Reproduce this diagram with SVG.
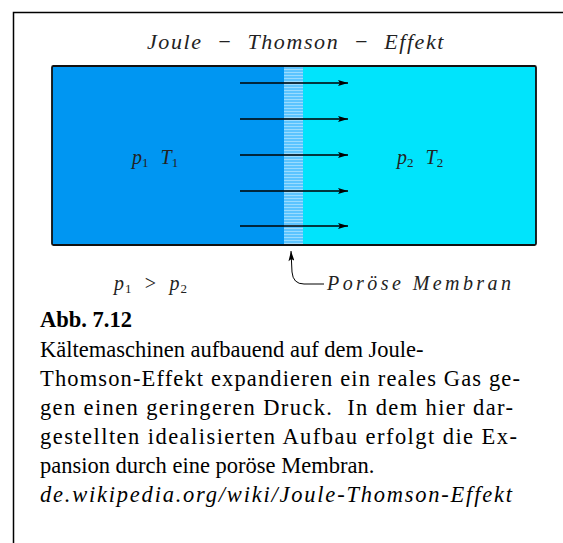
<svg xmlns="http://www.w3.org/2000/svg" width="563" height="543" viewBox="0 0 563 543">
<defs>
<marker id="ah" viewBox="0 0 10 6" refX="10" refY="3" markerWidth="11" markerHeight="6" markerUnits="userSpaceOnUse" orient="auto">
<path d="M0,0 L10,3 L0,6 L2,3 Z" fill="#000"/>
</marker>
<pattern id="stripes" x="0" y="0" width="20" height="3" patternUnits="userSpaceOnUse">
<rect width="20" height="3" fill="#5cc4ff"/>
<rect width="20" height="1" fill="#9adcff"/>
</pattern>
</defs>
<rect width="563" height="543" fill="#fff"/>
<path d="M13.5,543 V12.5 H563" fill="none" stroke="#000" stroke-width="1.5"/>
<g id="title" fill="#222">
<text x="296" y="49" text-anchor="middle" xml:space="preserve" style="font-family:'Liberation Serif',serif;font-style:italic;font-size:22px;letter-spacing:1.6px">Joule  −  Thomson  −  Effekt</text>
</g>
<g id="chamber">
<rect x="52" y="66" width="232" height="179" fill="#0096f2"/>
<rect x="284" y="66" width="252" height="179" fill="#00e4fc"/>
<rect x="284" y="66" width="19" height="179" fill="url(#stripes)"/>
<rect x="52" y="66" width="484" height="179" fill="none" stroke="#111" stroke-width="1.8" rx="1.5"/>
</g>
<g id="left-state" fill="#222">
<text x="132" y="164" style="font-family:'Liberation Serif',serif;font-style:italic;font-size:20px">p<tspan dy="3" style="font-style:normal;font-size:13px">1</tspan><tspan dy="-3" dx="12">T</tspan><tspan dy="3" style="font-style:normal;font-size:13px">1</tspan></text>
</g>
<g id="right-state" fill="#222">
<text x="397" y="164" style="font-family:'Liberation Serif',serif;font-style:italic;font-size:20px">p<tspan dy="3" style="font-style:normal;font-size:13px">2</tspan><tspan dy="-3" dx="12">T</tspan><tspan dy="3" style="font-style:normal;font-size:13px">2</tspan></text>
</g>
<g id="connectors" stroke="#000" fill="none" marker-end="url(#ah)">
<line x1="240" y1="83" x2="348" y2="83" stroke-width="1.5"/>
<line x1="240" y1="119" x2="348" y2="119" stroke-width="1.5"/>
<line x1="240" y1="155" x2="348" y2="155" stroke-width="1.5"/>
<line x1="240" y1="191" x2="348" y2="191" stroke-width="1.5"/>
<line x1="240" y1="226" x2="348" y2="226" stroke-width="1.5"/>
<path d="M324,284 H304 Q293,284 292,272 L291,251" stroke-width="1"/>
</g>
<g id="pressure-relation" fill="#222">
<text x="114" y="290" xml:space="preserve" textLength="73" lengthAdjust="spacing" style="font-family:'Liberation Serif',serif;font-style:italic;font-size:20px">p<tspan dy="3" style="font-style:normal;font-size:13px">1</tspan><tspan dy="-3" style="font-style:normal">  &gt;  </tspan><tspan>p</tspan><tspan dy="3" style="font-style:normal;font-size:13px">2</tspan></text>
</g>
<g id="membrane-label" fill="#222">
<text x="327" y="290" textLength="184" lengthAdjust="spacing" style="font-family:'Liberation Serif',serif;font-style:italic;font-size:20px">Poröse Membran</text>
</g>
<g id="caption" fill="#000">
<text x="40" y="327" style="font-family:'Liberation Serif',serif;font-size:22.5px;font-weight:bold">Abb. 7.12</text>
<text x="40" y="357" style="font-family:'Liberation Serif',serif;font-size:22.5px">Kältemaschinen aufbauend auf dem Joule-</text>
<text x="40" y="386" textLength="480" lengthAdjust="spacing" style="font-family:'Liberation Serif',serif;font-size:22.5px">Thomson-Effekt expandieren ein reales Gas ge-</text>
<text x="40" y="415" xml:space="preserve" textLength="473" lengthAdjust="spacing" style="font-family:'Liberation Serif',serif;font-size:22.5px">gen einen geringeren Druck.  In dem hier dar-</text>
<text x="40" y="444" textLength="477" lengthAdjust="spacing" style="font-family:'Liberation Serif',serif;font-size:22.5px">gestellten idealisierten Aufbau erfolgt die Ex-</text>
<text x="40" y="473" style="font-family:'Liberation Serif',serif;font-size:22.5px">pansion durch eine poröse Membran.</text>
<text x="40" y="502" textLength="472" lengthAdjust="spacing" style="font-family:'Liberation Serif',serif;font-size:22.5px;font-style:italic">de.wikipedia.org/wiki/Joule-Thomson-Effekt</text>
</g>
</svg>
